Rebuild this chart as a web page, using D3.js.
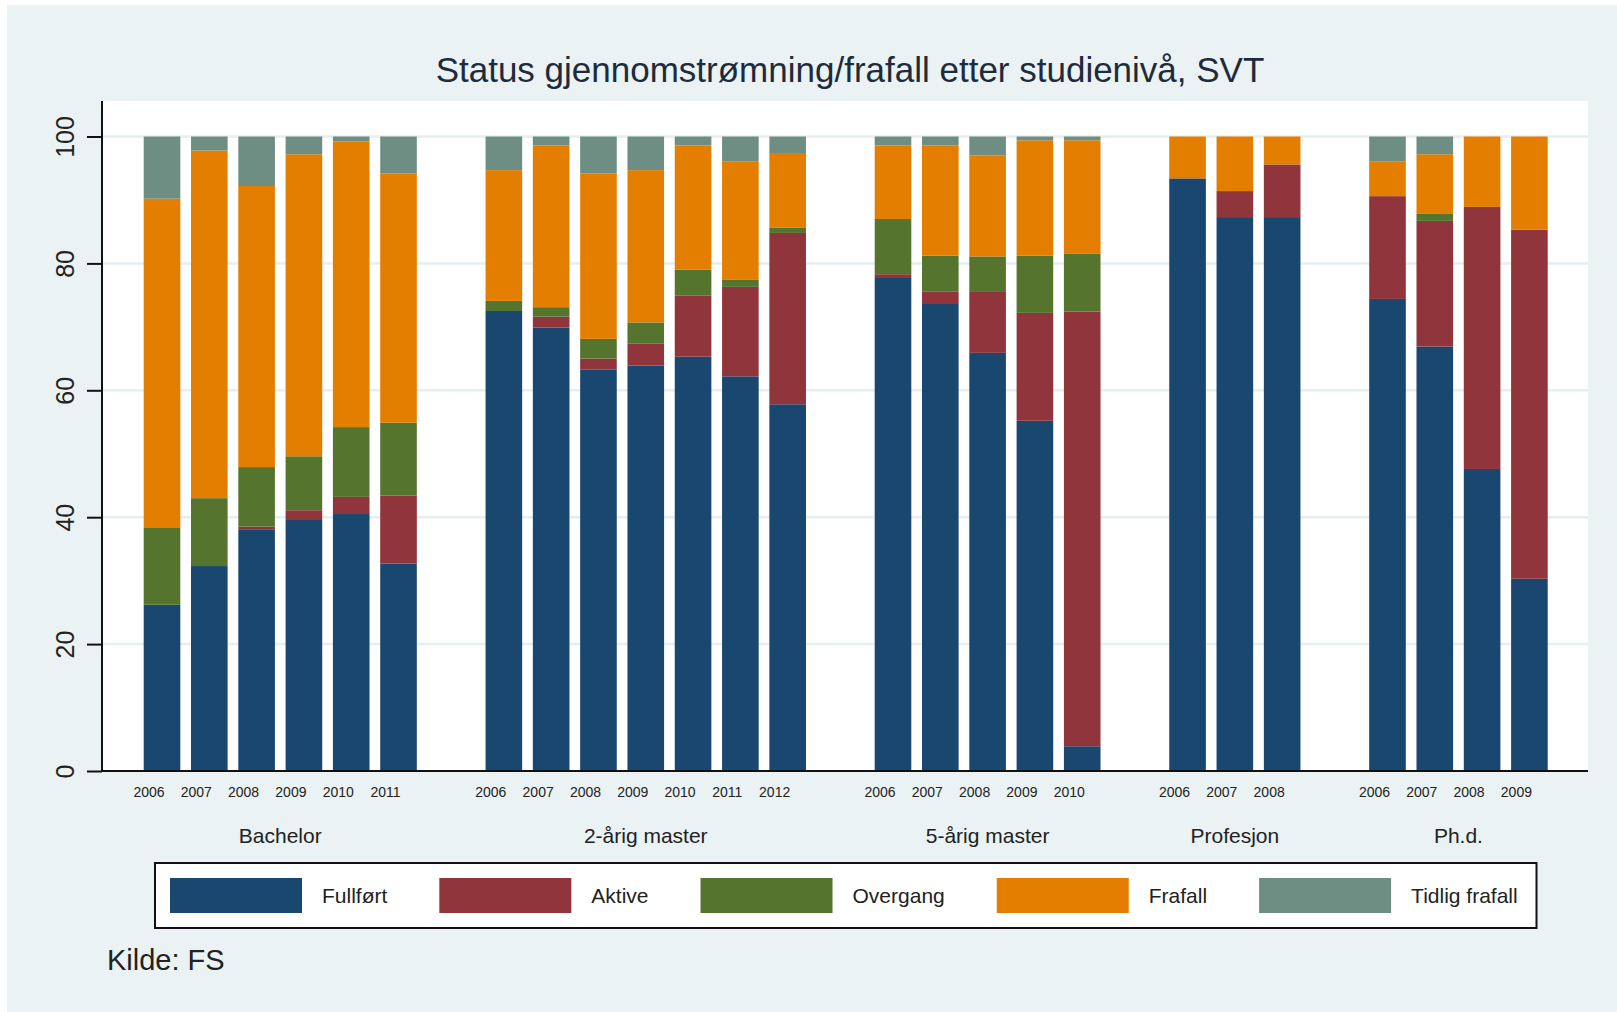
<!DOCTYPE html>
<html>
<head>
<meta charset="utf-8">
<script src="https://cdn.jsdelivr.net/npm/d3@7"></script>
<style>
  body { margin: 0; background: #fff; }
  text { font-family: "Liberation Sans", Arial, sans-serif; }
</style>
</head>
<body>
<div id="chart"></div>
<script>

// study levels and the cohort years inside each one
let groups = ["Bachelor", "2-årig master", "5-årig master", "Profesjon", "Ph.d."];
let groupYears = [
  ["2006", "2007", "2008", "2009", "2010", "2011"],
  ["2006", "2007", "2008", "2009", "2010", "2011", "2012"],
  ["2006", "2007", "2008", "2009", "2010"],
  ["2006", "2007", "2008"],
  ["2006", "2007", "2008", "2009"]
];

let statuses = ["Fullført", "Aktive", "Overgang", "Frafall", "Tidlig frafall"];

// shares (percent), one value per bar, in the same order as groupYears
let fullfort = [26.2, 32.3, 38.0, 39.7, 40.5, 32.7,
                72.5, 69.9, 63.3, 63.9, 65.3, 62.2, 57.8,
                77.7, 73.6, 65.9, 55.2, 3.9,
                93.4, 87.3, 87.3,
                74.4, 66.9, 47.6, 30.3];
let aktive   = [0, 0, 0.5, 1.4, 2.7, 10.7,
                0, 1.7, 1.7, 3.5, 9.6, 14.1, 27.0,
                0.6, 2.0, 9.6, 17.0, 68.5,
                0, 4.1, 8.3,
                16.2, 19.8, 41.3, 55.0];
let overgang = [12.1, 10.7, 9.4, 8.5, 11.0, 11.5,
                1.6, 1.5, 3.1, 3.3, 4.1, 1.1, 0.8,
                8.7, 5.6, 5.6, 9.0, 9.1,
                0, 0, 0,
                0, 1.1, 0, 0];
let frafall  = [51.9, 54.8, 44.3, 47.6, 45.0, 39.3,
                20.6, 25.5, 26.1, 24.0, 19.6, 18.7, 11.8,
                11.6, 17.4, 15.9, 18.2, 17.9,
                6.6, 8.6, 4.4,
                5.5, 9.4, 11.1, 14.7];
let tidlig   = [9.8, 2.2, 7.8, 2.8, 0.8, 5.8,
                5.3, 1.4, 5.8, 5.3, 1.4, 3.9, 2.6,
                1.4, 1.4, 3.0, 0.6, 0.6,
                0, 0, 0,
                3.9, 2.8, 0, 0];

let yTicks = [0, 20, 40, 60, 80, 100];

let colors = ["#1a476f", "#90353b", "#55752f", "#e37e00", "#6e8e84"];

// build rows for the stack
let rows = [];
let k = 0;
groups.forEach((g, gi) => {
  groupYears[gi].forEach((yr, yi) => {
    rows.push({
      group: g, gi: gi, year: yr, pos: k + gi * 1.227,
      "Fullført": fullfort[k], "Aktive": aktive[k], "Overgang": overgang[k],
      "Frafall": frafall[k], "Tidlig frafall": tidlig[k]
    });
    k++;
  });
});

let W = 1617, H = 1012;
let plot = { left: 102, right: 1588, top: 101, bottom: 771 };

let svg = d3.select("#chart")
  .append("svg")
    .attr("width", W)
    .attr("height", H);

// outer background
svg.append("rect")
  .attr("x", 7).attr("y", 5)
  .attr("width", W - 7).attr("height", H - 5)
  .attr("fill", "#eaf2f3");

// plot region
svg.append("rect")
  .attr("x", plot.left).attr("y", plot.top)
  .attr("width", plot.right - plot.left).attr("height", plot.bottom - plot.top)
  .attr("fill", "#ffffff");

let lastPos = d3.max(rows, d => d.pos);

let x = d3.scaleLinear()
  .domain([0, lastPos])
  .range([143.7, 1511.1]);

let unit = x(1) - x(0);
let barW = unit * 0.774;

let y = d3.scaleLinear()
  .domain([0, 100])
  .range([plot.bottom, 136.5]);

// horizontal grid lines
svg.selectAll(".yGrid")
  .data(yTicks.slice(1))
  .join("line")
  .attr("x1", plot.left)
  .attr("x2", plot.right)
  .attr("y1", d => y(d))
  .attr("y2", d => y(d))
  .attr("stroke", "#e6eef1")
  .attr("stroke-width", 2.5);

// stacked bars
let stacked = d3.stack().keys(statuses)(rows);

svg.append("g")
  .selectAll("g")
  .data(stacked)
  .join("g")
    .attr("fill", (d, i) => colors[i])
  .selectAll("rect")
  .data(d => d.filter(s => s[1] - s[0] > 0))
  .join("rect")
    .attr("x", d => x(d.data.pos))
    .attr("width", barW)
    .attr("y", d => y(d[1]))
    .attr("height", d => y(d[0]) - y(d[1]));

// y axis
let yAxis = svg.append("g")
  .attr("transform", `translate(${plot.left},0)`)
  .call(d3.axisLeft(y).tickValues(yTicks).tickSize(15).tickFormat(d3.format("d")));

yAxis.select(".domain").remove();
yAxis.selectAll(".tick line")
  .attr("stroke", "#111")
  .attr("stroke-width", 2);
yAxis.selectAll(".tick text")
  .attr("x", 0).attr("dy", 0)
  .attr("transform", "translate(-28,0) rotate(-90)")
  .attr("text-anchor", "middle")
  .style("font-size", "25px")
  .style("font-family", "'Liberation Sans', Arial, sans-serif")
  .attr("fill", "#222");

svg.append("line")
  .attr("x1", plot.left).attr("x2", plot.left)
  .attr("y1", plot.top).attr("y2", plot.bottom)
  .attr("stroke", "#111").attr("stroke-width", 2);

svg.append("line")
  .attr("x1", plot.left).attr("x2", plot.right)
  .attr("y1", plot.bottom).attr("y2", plot.bottom)
  .attr("stroke", "#111").attr("stroke-width", 2);

// year labels under each bar
svg.selectAll(".yearLabel")
  .data(rows)
  .join("text")
  .attr("x", d => x(d.pos) + barW / 2 - 13)
  .attr("y", 797)
  .attr("text-anchor", "middle")
  .style("font-size", "14px")
  .attr("fill", "#222")
  .text(d => d.year);

// study level labels
svg.selectAll(".groupLabel")
  .data(groups)
  .join("text")
  .attr("x", (d, gi) => {
    let g = rows.filter(r => r.gi === gi);
    return (x(g[0].pos) + x(g[g.length - 1].pos) + barW) / 2;
  })
  .attr("y", 843)
  .attr("text-anchor", "middle")
  .style("font-size", "21px")
  .attr("fill", "#222")
  .text(d => d);

// title
svg.append("text")
  .attr("x", 850)
  .attr("y", 82)
  .attr("text-anchor", "middle")
  .style("font-size", "35px")
  .attr("fill", "#1e2b3c")
  .text("Status gjennomstrømning/frafall etter studienivå, SVT");

// legend
let legend = svg.append("g");
legend.append("rect")
  .attr("x", 155).attr("y", 863)
  .attr("width", 1536.5 - 155).attr("height", 928 - 863)
  .attr("fill", "#fff")
  .attr("stroke", "#111")
  .attr("stroke-width", 2);

let lx = 170;
statuses.forEach((s, i) => {
  legend.append("rect")
    .attr("x", lx).attr("y", 878)
    .attr("width", 132).attr("height", 35)
    .attr("fill", colors[i]);
  let t = legend.append("text")
    .attr("x", lx + 152)
    .attr("y", 903)
    .style("font-size", "21px")
    .attr("fill", "#222")
    .text(s);
  lx = lx + 152 + t.node().getComputedTextLength() + 52;
});

// source
svg.append("text")
  .attr("x", 107)
  .attr("y", 970)
  .style("font-size", "29px")
  .attr("fill", "#222")
  .text("Kilde: FS");

</script>
</body>
</html>
